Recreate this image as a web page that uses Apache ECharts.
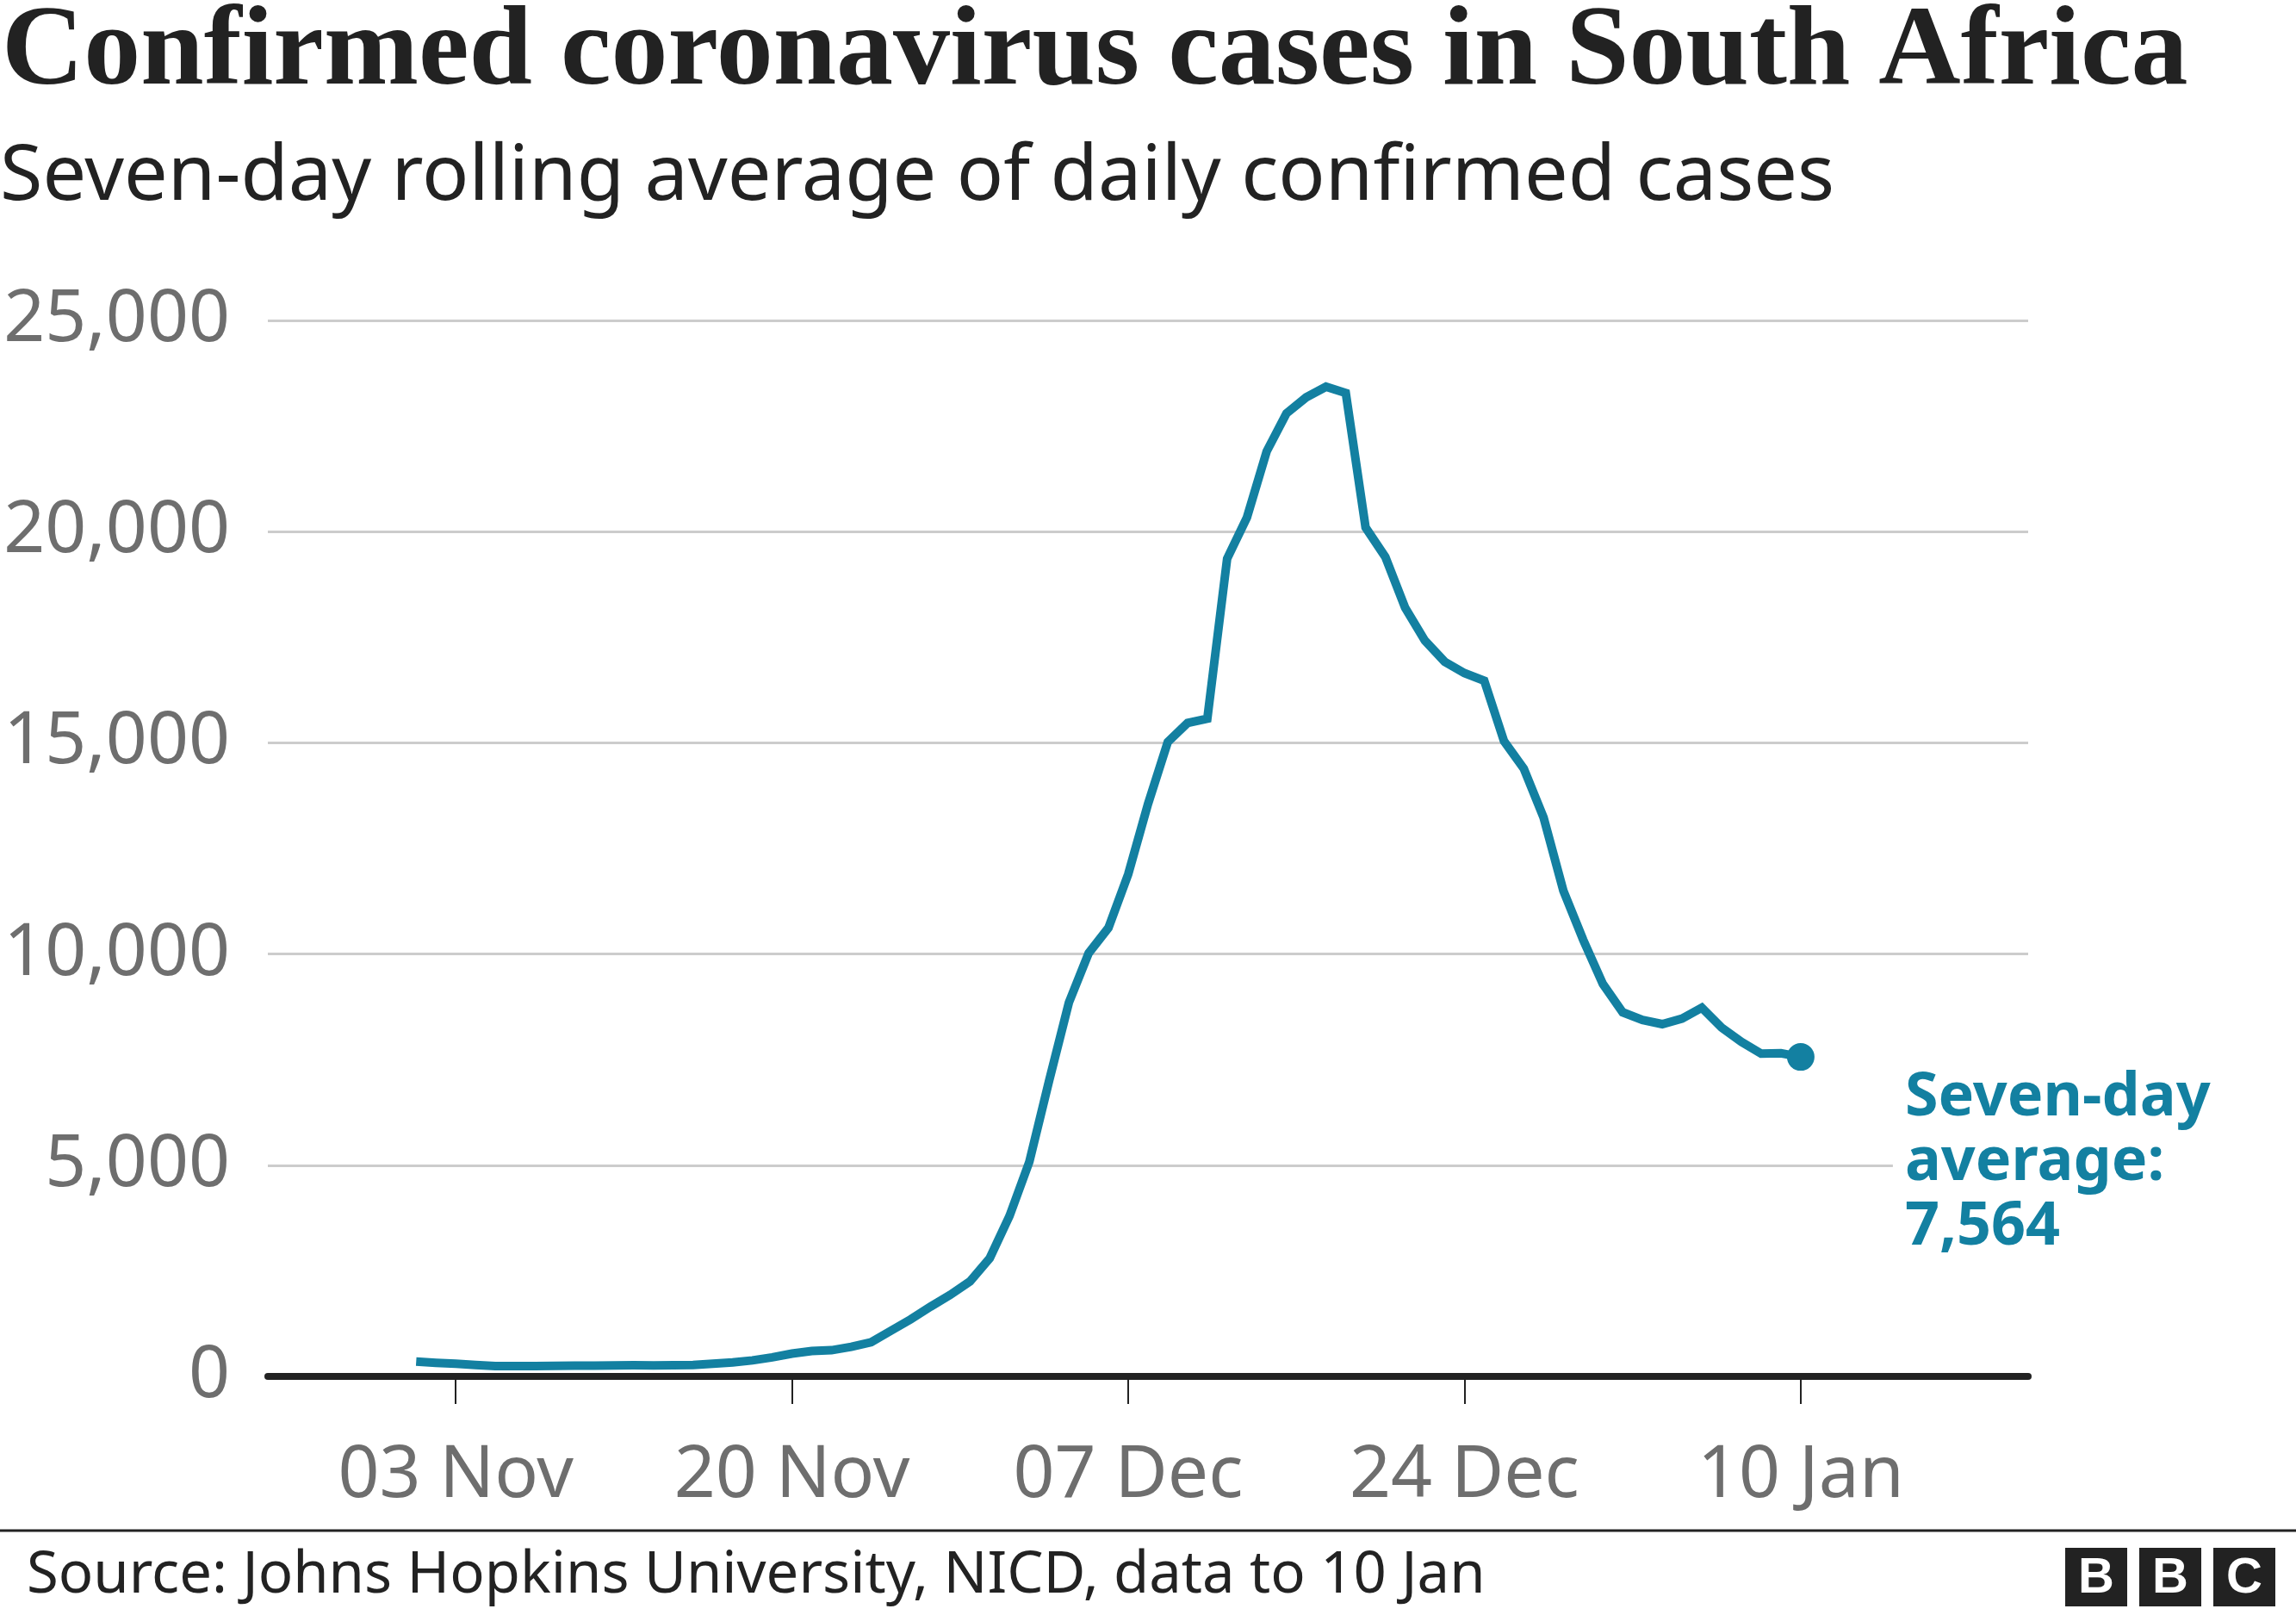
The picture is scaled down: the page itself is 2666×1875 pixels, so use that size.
<!DOCTYPE html>
<html>
<head>
<meta charset="utf-8">
<script src="https://cdn.jsdelivr.net/npm/echarts@6/dist/echarts.min.js"></script>
<style>
html,body{margin:0;padding:0;background:#ffffff;}
#chart{width:2666px;height:1875px;}
</style>
</head>
<body>
<div id="chart"></div>
<script>
// ---- Data (seven-day rolling average, daily from 01 Nov 2020 to 10 Jan 2021) ----
const firstDay = '01 Nov';
const caseValues = [
  350, 320, 300, 270, 245, 245, 245, 250, 255, 255,
  260, 265, 260, 265, 270, 300, 330, 380, 450, 540,
  600, 620, 700, 810, 1080, 1350, 1650, 1930, 2250, 2800,
  3800, 5080, 7000, 8850, 10020, 10620, 11890, 13550, 15020, 15470,
  15570, 19360, 20330, 21900, 22800, 23180, 23430, 23280, 20100, 19400,
  18200, 17420, 16920, 16650, 16470, 15040, 14390, 13230, 11500, 10340,
  9290, 8620, 8440, 8340, 8470, 8730, 8260, 7920, 7640, 7650,
  7564
];
const tickDays = [2, 19, 36, 53, 70];           // day offsets from 01 Nov
const tickLabels = ['03 Nov', '20 Nov', '07 Dec', '24 Dec', '10 Jan'];
const yTickValues = [0, 5000, 10000, 15000, 20000, 25000];

const titleText = 'Confirmed coronavirus cases in South Africa';
const subtitleText = 'Seven-day rolling average of daily confirmed cases';
const sourceText = 'Source: Johns Hopkins University, NICD, data to 10 Jan';
const annotLines = ['Seven-day', 'average:'];

const teal = '#1380A1';
const sans = '"Noto Sans", "Open Sans", sans-serif';

const chart = echarts.init(document.getElementById('chart'), null, {renderer: 'canvas'});

const lineData = caseValues.map((v, i) => [i, v]);
const lastIdx = caseValues.length - 1;
const lastVal = caseValues[lastIdx];

const option = {
  animation: false,
  backgroundColor: '#ffffff',
  grid: {left: 311, right: 311, top: 372, bottom: 277, containLabel: false, outerBoundsMode: 'none'},
  xAxis: {
    type: 'value',
    min: -7.5,
    max: 81.5,
    axisLine: {show: true, onZero: false, lineStyle: {color: '#222222', width: 8}},
    axisTick: {show: true, customValues: tickDays, length: 32, lineStyle: {color: '#222222', width: 2}},
    axisLabel: {
      show: true,
      customValues: tickDays,
      formatter: v => tickLabels[tickDays.indexOf(Math.round(v))] || '',
      margin: 74,
      fontSize: 84,
      fontFamily: sans,
      color: '#6e6e6e'
    },
    splitLine: {show: false}
  },
  yAxis: {
    type: 'value',
    min: yTickValues[0],
    max: yTickValues[yTickValues.length - 1],
    interval: yTickValues[1] - yTickValues[0],
    axisLine: {show: false},
    axisTick: {show: false},
    axisLabel: {
      margin: 44,
      fontSize: 84,
      fontFamily: sans,
      color: '#6e6e6e',
      padding: [10, 0, 0, 0],
      formatter: v => v.toLocaleString('en-US')
    },
    splitLine: {show: true, lineStyle: {color: '#cccccc', width: 3}}
  },
  series: [
    {
      type: 'line',
      data: lineData,
      symbol: 'none',
      lineStyle: {color: teal, width: 10, join: 'miter'},
      z: 3
    },
    {
      type: 'scatter',
      data: [lineData[lastIdx]],
      symbol: 'circle',
      symbolSize: 32,
      itemStyle: {color: teal, opacity: 1},
      z: 4
    }
  ],
  graphic: {
    elements: [
      {
        id: 'title', type: 'text', x: 2, y: 63,
        style: {text: titleText, fontSize: 132, fontWeight: 'bold', fontFamily: '"Liberation Serif", serif', fill: '#222222', verticalAlign: 'middle'}
      },
      {
        id: 'subtitle', type: 'text', x: 0, y: 206,
        style: {text: subtitleText, fontSize: 90, fontFamily: sans, fill: '#222222', verticalAlign: 'middle'}
      },
      {
        id: 'footline', type: 'line',
        shape: {x1: 0, y1: 1777, x2: 2666, y2: 1777},
        style: {stroke: '#222222', lineWidth: 3}
      },
      {
        id: 'source', type: 'text', x: 31, y: 1830,
        style: {text: sourceText, fontSize: 67, fontFamily: sans, fill: '#222222', verticalAlign: 'middle'}
      },
      {id: 'b1', type: 'rect', shape: {x: 2398, y: 1797, width: 72, height: 68}, style: {fill: '#222222'}},
      {id: 'b2', type: 'rect', shape: {x: 2484, y: 1797, width: 72, height: 68}, style: {fill: '#222222'}},
      {id: 'b3', type: 'rect', shape: {x: 2570, y: 1797, width: 72, height: 68}, style: {fill: '#222222'}},
      {id: 't1', type: 'text', x: 2434, y: 1833, style: {text: 'B', fontSize: 58, fontWeight: 'bold', fontFamily: '"Liberation Sans", sans-serif', fill: '#ffffff', align: 'center', verticalAlign: 'middle'}},
      {id: 't2', type: 'text', x: 2520, y: 1833, style: {text: 'B', fontSize: 58, fontWeight: 'bold', fontFamily: '"Liberation Sans", sans-serif', fill: '#ffffff', align: 'center', verticalAlign: 'middle'}},
      {id: 't3', type: 'text', x: 2606, y: 1833, style: {text: 'C', fontSize: 58, fontWeight: 'bold', fontFamily: '"Liberation Sans", sans-serif', fill: '#ffffff', align: 'center', verticalAlign: 'middle'}}
    ]
  }
};

chart.setOption(option);

// annotation anchored to the last data point
const p = chart.convertToPixel({gridIndex: 0}, lineData[lastIdx]);
chart.setOption({
  graphic: {
    elements: [
      {
        id: 'annot', type: 'text', x: p[0] + 107, y: p[1] + 11, z: 10,
        style: {
          text: annotLines.concat([lastVal.toLocaleString('en-US')]).join('\n'),
          fontSize: 70, fontWeight: 'bold', fontFamily: sans, fill: teal,
          lineHeight: 75, verticalAlign: 'top',
          backgroundColor: '#ffffff', padding: [0, 8, 0, 14]
        }
      }
    ]
  }
});
</script>
</body>
</html>
